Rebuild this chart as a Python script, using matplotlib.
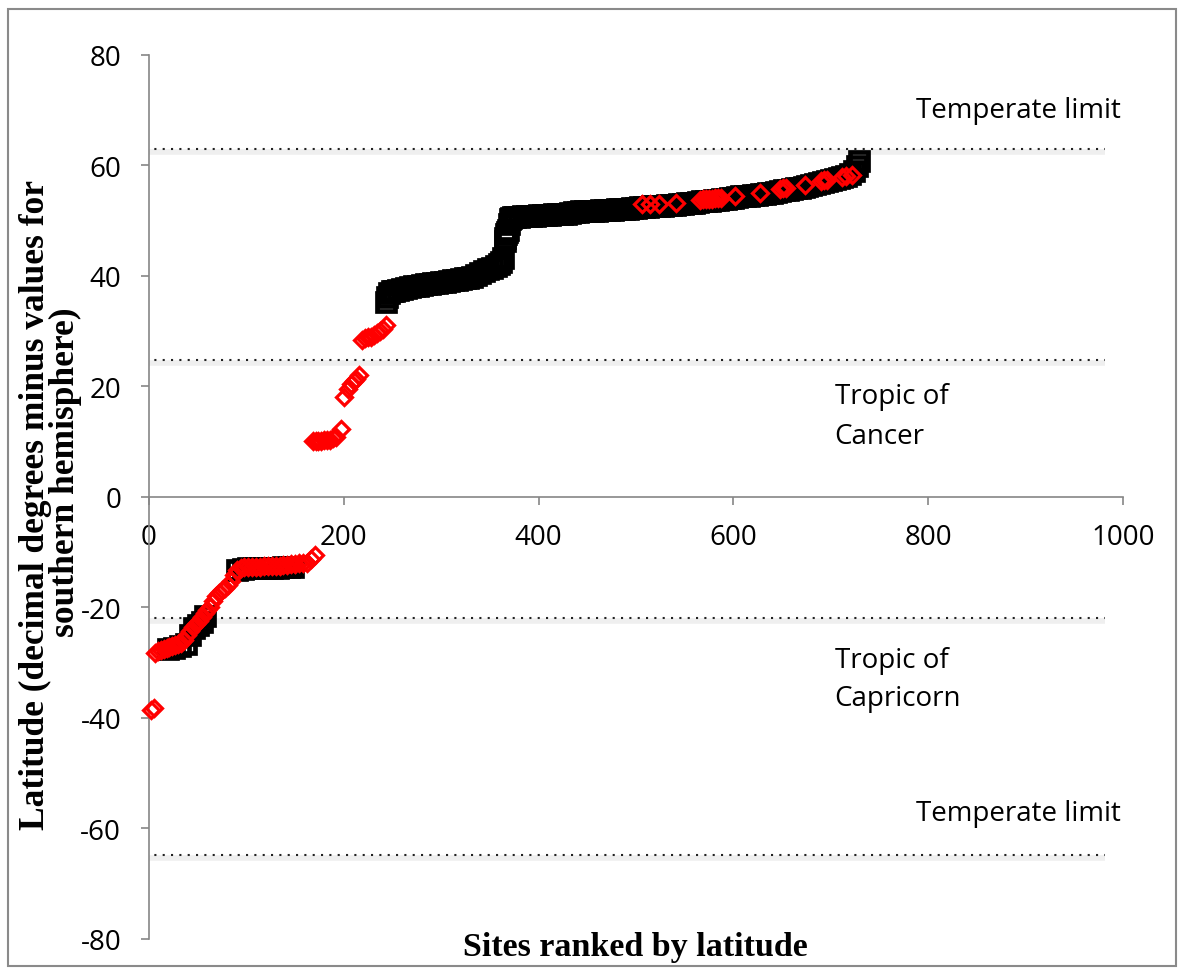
import matplotlib
matplotlib.use('Agg')
import matplotlib.pyplot as plt
from matplotlib.patches import Rectangle

plt.rcParams['axes.unicode_minus'] = False

# sites south of the equator (black squares, mostly hidden under red)
south_sq_rank = [20, 26, 32, 38, 42, 46, 50, 54, 58,
                 90, 96, 102, 108, 114, 120, 126, 132, 138, 144, 148]
south_sq_lat = [-27.6, -27.3, -27.0, -26.6, -25.0, -23.8, -23.2, -22.6, -21.6,
                -13.3, -13.0, -12.9, -12.9, -12.9, -12.8, -12.8, -12.8, -12.7, -12.7, -12.6]

# northern sites (black squares), lower block up to the jump at ~365
north_sq_rank_a = [243, 244, 246, 249, 252, 256, 260, 264, 268, 272,
                   276, 280, 284, 288, 292, 296, 300, 304, 308, 312,
                   316, 320, 324, 328, 332, 336, 340, 344, 348, 352,
                   356, 359, 361, 363, 365, 366, 367, 368, 369, 370,
                   371, 372, 374]
north_sq_lat_a = [35.3, 36.2, 37.0, 37.2, 37.3, 37.5, 37.6, 37.8, 38.0, 38.1,
                  38.2, 38.3, 38.5, 38.6, 38.7, 38.8, 38.9, 39.0, 39.1, 39.2,
                  39.3, 39.4, 39.6, 39.7, 39.9, 40.2, 40.5, 40.9, 41.2, 41.5,
                  41.8, 42.2, 42.6, 43.2, 46.3, 46.8, 47.6, 48.0, 48.3, 49.5,
                  50.3, 50.5, 50.6]

# northern sites (black squares), upper block
north_sq_rank_b = [376, 380, 384, 388, 392, 396, 400, 404, 408, 412,
                   416, 420, 424, 428, 432, 436, 440, 444, 448, 452,
                   456, 460, 464, 468, 472, 476, 480, 484, 488, 492,
                   496, 500, 504, 508, 512, 516, 520, 524, 528, 532,
                   536, 540, 544, 548, 552, 556, 560, 564, 568, 572,
                   576, 580, 584, 588, 592, 596, 600, 604, 608, 612,
                   616, 620, 624, 628, 632, 636, 640, 644, 648, 652,
                   656, 660, 664, 668, 672, 676, 680, 684, 688, 692,
                   696, 700, 704, 708, 712, 716, 720, 724, 727, 729]
north_sq_lat_b = [50.7, 50.7, 50.8, 50.8, 50.9, 50.9, 51.0, 51.0, 51.1, 51.1,
                  51.2, 51.2, 51.3, 51.3, 51.4, 51.5, 51.6, 51.7, 51.7, 51.8,
                  51.8, 51.8, 51.9, 51.9, 52.0, 52.0, 52.1, 52.1, 52.2, 52.2,
                  52.3, 52.3, 52.4, 52.5, 52.5, 52.6, 52.6, 52.7, 52.7, 52.8,
                  52.8, 52.9, 53.0, 53.1, 53.2, 53.3, 53.3, 53.4, 53.5, 53.6,
                  53.6, 53.7, 53.8, 53.9, 54.0, 54.1, 54.2, 54.3, 54.4, 54.4,
                  54.5, 54.6, 54.7, 54.8, 54.9, 55.0, 55.1, 55.2, 55.3, 55.5,
                  55.6, 55.7, 55.9, 56.0, 56.1, 56.3, 56.4, 56.6, 56.8, 57.0,
                  57.2, 57.3, 57.5, 57.7, 57.9, 58.1, 58.4, 59.0, 59.9, 60.8]

# red diamonds - southern hemisphere
south_dm_rank = [2, 5, 6, 9, 12, 15, 18, 21, 24, 27, 30, 33, 36, 39, 42, 45, 48,
                 51, 54, 57, 60, 63, 66, 69, 72, 75, 78, 81, 84, 87, 90, 94, 98,
                 102, 106, 110, 114, 118, 122, 126, 130, 134, 138, 142, 146, 150,
                 154, 158, 162, 166, 170]
south_dm_lat = [-38.6, -38.2, -28.2, -27.9, -27.7, -27.6, -27.4, -27.2, -27.0,
                -26.8, -26.6, -26.4, -25.8, -25.0, -24.2, -23.5, -23.0, -22.5,
                -21.8, -21.0, -20.5, -20.0, -18.8, -18.0, -17.4, -16.9, -16.4,
                -16.0, -15.2, -14.2, -13.3, -12.8, -12.7, -12.7, -12.6, -12.6,
                -12.6, -12.5, -12.5, -12.5, -12.4, -12.4, -12.3, -12.3, -12.2,
                -12.1, -12.0, -12.0, -11.9, -11.3, -10.5]

# red diamonds - tropics north
trop_dm_rank = [168, 171, 174, 177, 180, 183, 186, 189, 192, 197, 200, 204, 207,
                210, 213, 216, 219, 222, 225, 228, 231, 234, 237, 240, 243]
trop_dm_lat = [10.1, 10.1, 10.2, 10.2, 10.3, 10.3, 10.4, 10.6, 10.9, 12.3, 18.1,
               19.6, 20.5, 21.0, 21.4, 22.0, 28.5, 28.7, 28.9, 29.0, 29.3, 29.6,
               30.0, 30.4, 31.1]

# red diamonds sitting on the northern band
north_dm_rank = [506, 514, 524, 541, 566, 569, 572, 575, 578, 581, 584, 587, 602,
                 627, 648, 651, 654, 673, 690, 693, 696, 712, 716, 722]
north_dm_lat = [53.0, 53.1, 53.0, 53.2, 53.8, 53.9, 53.9, 54.0, 54.0, 54.1, 54.1,
                54.2, 54.5, 55.0, 55.8, 56.0, 56.0, 56.5, 57.2, 57.3, 57.4, 57.9,
                58.1, 58.3]

ref_lines = [63.0, 24.8, -21.9, -64.8]
notes = ['Temperate limit', 'Tropic of', 'Cancer', 'Tropic of', 'Capricorn', 'Temperate limit']
note_x = [787, 704, 704, 704, 704, 787]
note_y = [70.0, 18.3, 11.0, -29.5, -36.4, -57.2]

fig = plt.figure(figsize=(11.81, 9.70), dpi=100)
ax = fig.add_axes([0.12617, 0.03093, 0.82473, 0.91134])

for y in ref_lines:
    ax.plot([-3, 981], [y - 0.6, y - 0.6], color='#efefef', lw=4, solid_capstyle='butt', zorder=1)
    ax.plot([-3, 981], [y, y], color='#222222', lw=1.5, ls=(0, (1, 3)), zorder=2)

sq = dict(marker='s', ls='none', ms=12.5, mew=3.4, mfc='none', mec='black', zorder=3, clip_on=False)
ax.plot(south_sq_rank, south_sq_lat, **sq)
ax.plot(north_sq_rank_a, north_sq_lat_a, **sq)
ax.plot(north_sq_rank_b, north_sq_lat_b, **sq)

dm = dict(marker='D', ls='none', ms=8.6, mew=2.3, mfc='none', mec='#ff0000', zorder=4, clip_on=False)
ax.plot(south_dm_rank, south_dm_lat, **dm)
ax.plot(trop_dm_rank, trop_dm_lat, **dm)
ax.plot(north_dm_rank, north_dm_lat, **dm)

for t, x, y in zip(notes, note_x, note_y):
    ax.text(x, y, t, fontsize=20, family='Open Sans', va='center', ha='left')

ax.set_xlim(0, 1000)
ax.set_ylim(-80, 80)
ax.set_xticks(range(0, 1001, 200))
ax.set_yticks(range(-80, 81, 20))
ax.spines['top'].set_visible(False)
ax.spines['right'].set_visible(False)
ax.spines['bottom'].set_position(('data', 0))
for s in ('left', 'bottom'):
    ax.spines[s].set_color('#868686')
    ax.spines[s].set_linewidth(1.2)
ax.tick_params(axis='both', direction='out', length=6, width=1.2, color='#868686',
               labelsize=20)
ax.tick_params(axis='y', pad=14)
ax.tick_params(axis='x', pad=13)
for lab in ax.get_xticklabels() + ax.get_yticklabels():
    lab.set_family('Open Sans')

fig.text(635 / 1181, 1 - 948 / 970, 'Sites ranked by latitude', ha='center', va='center',
         fontsize=24.5, family='Liberation Serif', fontweight='bold')
# y title, written as two lines
ylab = dict(rotation=90, ha='center', va='center', fontsize=25.5,
            family='Liberation Serif', fontweight='bold')
fig.text(35 / 1181, 1 - 505 / 970, 'Latitude (decimal degrees minus values for', **ylab)
fig.text(65 / 1181, 1 - 472 / 970, 'southern hemisphere)', **ylab)

fig.patches.append(Rectangle((8 / 1181, 3 / 970), 1168 / 1181, 957 / 970,
                             transform=fig.transFigure, fill=False, ec='#8a8a8a', lw=1.5))

fig.savefig('out.png', dpi=100)
